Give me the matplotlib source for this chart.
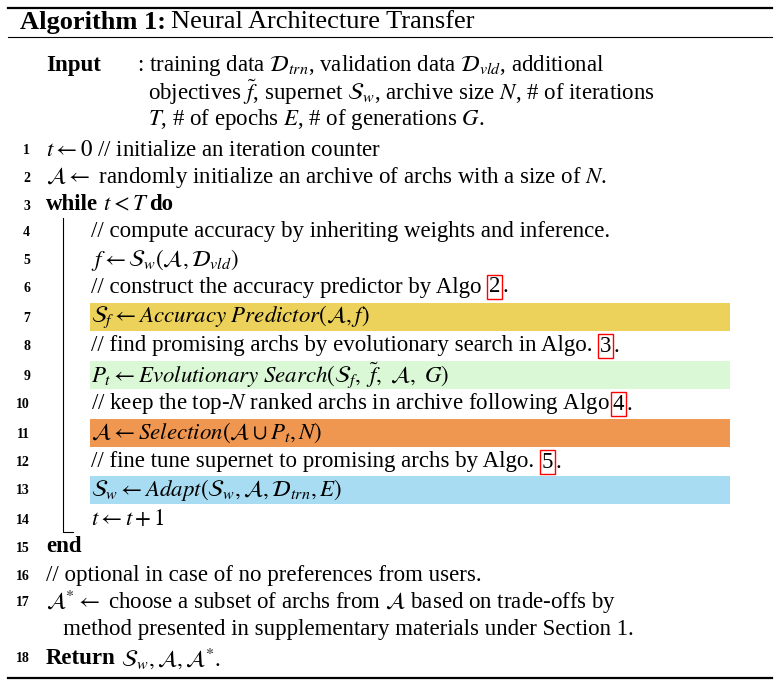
import matplotlib
matplotlib.use("Agg")
import matplotlib.pyplot as plt

plt.rcParams['font.family'] = ['Liberation Serif', 'DejaVu Serif']
plt.rcParams['mathtext.fontset'] = 'stix'

title_bold = "Algorithm 1:"
title_rest = "Neural Architecture Transfer"
input_lines = [
    r": training data $\mathcal{D}_{trn}$, validation data $\mathcal{D}_{vld}$, additional",
    r"objectives $\tilde{f}$, supernet $\mathcal{S}_w$, archive size $N$, # of iterations",
    r"$T$, # of epochs $E$, # of generations $G$.",
]
# (line number, indent level, segments, highlight colour)
lines = [
    ("1", 0, [(r"$t \leftarrow 0$ // initialize an iteration counter", "normal")], None),
    ("2", 0, [(r"$\mathcal{A} \leftarrow$ randomly initialize an archive of archs with a size of $N$.", "normal")], None),
    ("3", 0, [("while", "bold"), (r" $t < T$ ", "normal"), ("do", "bold")], None),
    ("4", 1, [("// compute accuracy by inheriting weights and inference.", "normal")], None),
    ("5", 1, [(r"$f \leftarrow \mathcal{S}_w(\mathcal{A}, \mathcal{D}_{vld})$", "normal")], None),
    ("6", 1, [("// construct the accuracy predictor by Algo ", "normal"), ("2", "box"), (".", "normal")], None),
    ("7", 1, [(r"$\mathcal{S}_f \leftarrow \mathit{Accuracy\ Predictor}(\mathcal{A}, f)$", "normal")], "#ECD15A"),
    ("8", 1, [("// find promising archs by evolutionary search in Algo. ", "normal"), ("3", "box"), (".", "normal")], None),
    ("9", 1, [(r"$P_t \leftarrow \mathit{Evolutionary\ Search}(\mathcal{S}_f,\ \tilde{f},\ \mathcal{A},\ G)$", "normal")], "#DAF8D6"),
    ("10", 1, [("// keep the top-$N$ ranked archs in archive following Algo ", "normal"), ("4", "box"), (".", "normal")], None),
    ("11", 1, [(r"$\mathcal{A} \leftarrow \mathit{Selection}(\mathcal{A} \cup P_t, N)$", "normal")], "#EF9650"),
    ("12", 1, [("// fine tune supernet to promising archs by Algo. ", "normal"), ("5", "box"), (".", "normal")], None),
    ("13", 1, [(r"$\mathcal{S}_w \leftarrow \mathit{Adapt}(\mathcal{S}_w, \mathcal{A}, \mathcal{D}_{trn}, E)$", "normal")], "#A8DCF2"),
    ("14", 1, [(r"$t \leftarrow t + 1$", "normal")], None),
    ("15", 0, [("end", "bold")], None),
    ("16", 0, [("// optional in case of no preferences from users.", "normal")], None),
    ("17", 0, [(r"$\mathcal{A}^{*} \leftarrow$ choose a subset of archs from $\mathcal{A}$ based on trade-offs by", "normal")], None),
    ("", 0, [("   method presented in supplementary materials under Section 1.", "normal")], None),
    ("18", 0, [("Return", "bold"), (r" $\mathcal{S}_w, \mathcal{A}, \mathcal{A}^{*}$.", "normal")], None),
]
line_y = [150, 177, 205, 232, 260, 287, 317, 346, 375, 404, 433, 462, 490, 520, 547, 575, 602, 629, 658]

fig = plt.figure(figsize=(7.8, 6.83), dpi=100)
ax = fig.add_axes([0, 0, 1, 1])
ax.set_xlim(0, 780)
ax.set_ylim(683, 0)
ax.axis('off')
r = fig.canvas.get_renderer()
fs = 16.5


def draw_segments(x, y, segs, size=fs):
    for txt, kind in segs:
        if kind == "bold":
            t = ax.text(x, y, txt, fontsize=size, weight='bold', va='center')
        elif kind == "box":
            t = ax.text(x + 2, y, txt, fontsize=size, va='center',
                        bbox=dict(boxstyle='square,pad=0.08', fc='none', ec='red', lw=1))
        else:
            t = ax.text(x, y, txt, fontsize=size, va='center')
        x += t.get_window_extent(r).width + (4 if kind == "box" else 0)
    return x


ax.plot([8, 772], [8, 8], color='black', lw=1.6)
ax.plot([8, 772], [37, 37], color='black', lw=0.8)
ax.plot([8, 772], [678, 678], color='black', lw=1.6)
x = draw_segments(20, 22, [(title_bold, "bold")], size=19)
ax.text(x + 5, 22, title_rest, fontsize=19, va='center')

ax.text(46, 65, "Input", fontsize=fs, weight='bold', va='center')
ax.text(137, 65, input_lines[0], fontsize=fs, va='center')
ax.text(148, 92, input_lines[1], fontsize=fs, va='center')
ax.text(148, 119, input_lines[2], fontsize=fs, va='center')

for (num, ind, segs, col), y in zip(lines, line_y):
    if col:
        ax.add_patch(plt.Rectangle((90, y - 14), 640, 28, color=col, lw=0))
    if num:
        ax.text(30, y + 1, num, fontsize=10, weight='bold', ha='right', va='center')
    draw_segments(46 if ind == 0 else 91, y, segs)

ax.plot([63, 63, 73], [218, 532, 532], color='black', lw=0.8)

fig.savefig("out.png", dpi=100)
